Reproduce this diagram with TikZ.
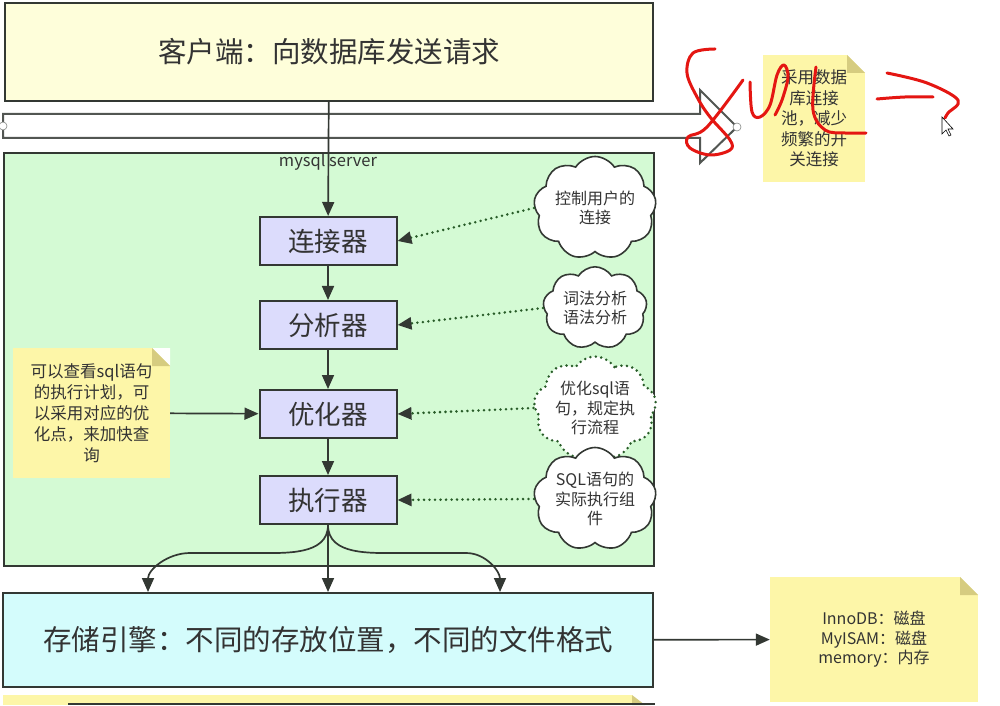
\documentclass[tikz,border=0pt]{standalone}
\usepackage{fontspec}
\setmainfont{Noto Sans CJK SC}
\usepackage{tikz}
\usetikzlibrary{arrows.meta,positioning,shapes.symbols}
\definecolor{clientfill}{RGB}{254,254,218}
\definecolor{srvfill}{RGB}{212,250,212}
\definecolor{boxfill}{RGB}{220,220,252}
\definecolor{storefill}{RGB}{212,252,252}
\definecolor{notefill}{RGB}{253,246,168}
\definecolor{foldfill}{RGB}{214,204,128}
\definecolor{edge}{RGB}{51,56,51}
\definecolor{txt}{RGB}{51,51,51}
\definecolor{dots}{RGB}{40,92,40}
\definecolor{pen}{RGB}{228,22,18}

\begin{document}
\begin{tikzpicture}[x=1pt,y=1pt,
  node distance=36pt,
  frame/.style={draw=edge,line width=2pt,text=txt},
  box/.style={frame,fill=boxfill,minimum width=137pt,minimum height=48pt,font=\fontsize{26.5}{30}\selectfont},
  cld/.style={cloud,cloud puffs=9,cloud puff arc=115,aspect=1.3,draw=edge,line width=1.6pt,fill=white,text=txt,align=center,inner sep=0pt,minimum width=104pt,minimum height=80pt,font=\fontsize{16}{19.5}\selectfont},
  dotline/.style={draw=dots,line width=2.8pt,line cap=round,dash pattern=on 0pt off 5.5pt},
  sticky/.style={fill=notefill,text=txt,align=center,inner sep=2pt,path picture={
      \fill[white] (path picture bounding box.north east) -- ++(-18pt,0pt) -- ++(18pt,-18pt) -- cycle;
      \fill[foldfill] (path picture bounding box.north east) ++(-18pt,0pt) -- ++(18pt,-18pt) -- ++(-18pt,0pt) -- cycle;}},
  arr/.style={-{Triangle[length=14pt,width=12pt]},line width=1.7pt,draw=edge},
  dotarr/.style={dotline,-{Triangle[length=14pt,width=12pt,color=edge]}},
  scribble/.style={draw=pen,line width=3pt,line cap=round,line join=round}
]
\useasboundingbox (0,0) rectangle (1000,705);

\node[frame,fill=clientfill,minimum width=648pt,minimum height=98pt,font=\fontsize{28.5}{33}\selectfont] (client) at (329,653) {客户端：向数据库发送请求};

\draw[draw=edge!85,line width=2pt,fill=white] (3,591) -- (700,591) -- (700,615) -- (737,578) -- (700,542) -- (700,567) -- (3,567) -- cycle;
\draw[edge!60,fill=white,line width=0.6pt] (3,579) circle (4pt) (737,578) circle (4pt);

\node[frame,fill=srvfill,minimum width=650pt,minimum height=413pt,anchor=north west] (srv) at (3,553) {};
\node[text=txt,font=\fontsize{16.5}{19}\selectfont] (srvname) at (328,543) {mysql server};

\node[box] (conn) at (328,464) {连接器};
\node[box,below=34pt of conn] (ana) {分析器};
\node[box,below=39pt of ana] (opt) {优化器};
\node[box,below=36pt of opt] (exec) {执行器};

\node[cld] (c1) at (595,497) {控制用户的\\连接};
\node[cld] (c2) at (595,397) {词法分析\\语法分析};
\node[cld,dotline] (c3) at (595,297) {优化sql语\\句，规定执\\行流程};
\node[cld] (c4) at (595,206) {SQL语句的\\实际执行组\\件};

\node[sticky,minimum width=157pt,minimum height=130pt,font=\fontsize{16.5}{21}\selectfont] (plan) at (91.5,292) {可以查看sql语句\\的执行计划，可\\以采用对应的优\\化点，来加快查\\询};

\node[frame,fill=storefill,minimum width=650pt,minimum height=94pt,font=\fontsize{28.5}{33}\selectfont] (stor) at (328,65) {存储引擎：不同的存放位置，不同的文件格式};
\node[sticky,minimum width=208pt,minimum height=125pt,font=\fontsize{16}{19.5}\selectfont] (eng) at (874,65.5) {InnoDB：磁盘\\MyISAM：磁盘\\memory：内存};
\node[sticky,minimum width=102pt,minimum height=127pt,font=\fontsize{16.5}{20.5}\selectfont] (pool) at (814,586.5) {采用数据\\库连接\\池，减少\\频繁的开\\关连接};

\draw[arr] (client) -- (conn);
\draw[arr] (conn) -- (ana);
\draw[arr] (ana) -- (opt);
\draw[arr] (opt) -- (exec);
\draw[arr] (plan) -- (opt);
\draw[dotarr] (c1.west) -- (conn.east);
\draw[dotarr] (c2.west) -- (ana.east);
\draw[dotarr] (c3.west) -- (opt.east);
\draw[dotarr] (c4.west) -- (exec.east);
\draw[arr] (exec) -- (exec |- stor.north);
\draw[arr] (exec.south) to[out=-90,in=0] (255,152) -- (190,152) to[out=180,in=90] (148,0 |- stor.north);
\draw[arr] (exec.south) to[out=-90,in=180] (401,152) -- (466,152) to[out=0,in=90] (500,0 |- stor.north);
\draw[arr] (stor) -- (eng);

\fill[notefill] (3,0) rectangle (632,10);
\fill[foldfill] (632,10) -- (645,0) -- (632,0) -- cycle;
\draw[edge,line width=2pt] (68,1) -- (655,1);

\draw[scribble] plot[smooth,tension=0.6] coordinates {(715,656) (693,652) (687,632) (697,608) (710,588) (730,565) (730,555) (710,550) (690,557) (688,568) (707,578) (743,625)};
\draw[scribble] plot[smooth,tension=0.6] coordinates {(750,623) (752,593) (760,588) (770,600) (777,630) (784,640) (788,628) (782,605) (775,590)};
\draw[scribble] plot[smooth,tension=0.6] coordinates {(816,638) (813,595) (825,575) (845,572) (866,572)};
\draw[scribble] plot[smooth,tension=0.6] coordinates {(877,606) (905,608) (933,608)};
\draw[scribble] plot[smooth,tension=0.6] coordinates {(887,632) (927,622) (958,605) (948,592) (945,587)};
\draw[black,fill=white,line width=0.6pt] (942,588) -- (942,571) -- (946,575) -- (949,569) -- (951,570) -- (948,576) -- (953,576) -- cycle;
\end{tikzpicture}
\end{document}
